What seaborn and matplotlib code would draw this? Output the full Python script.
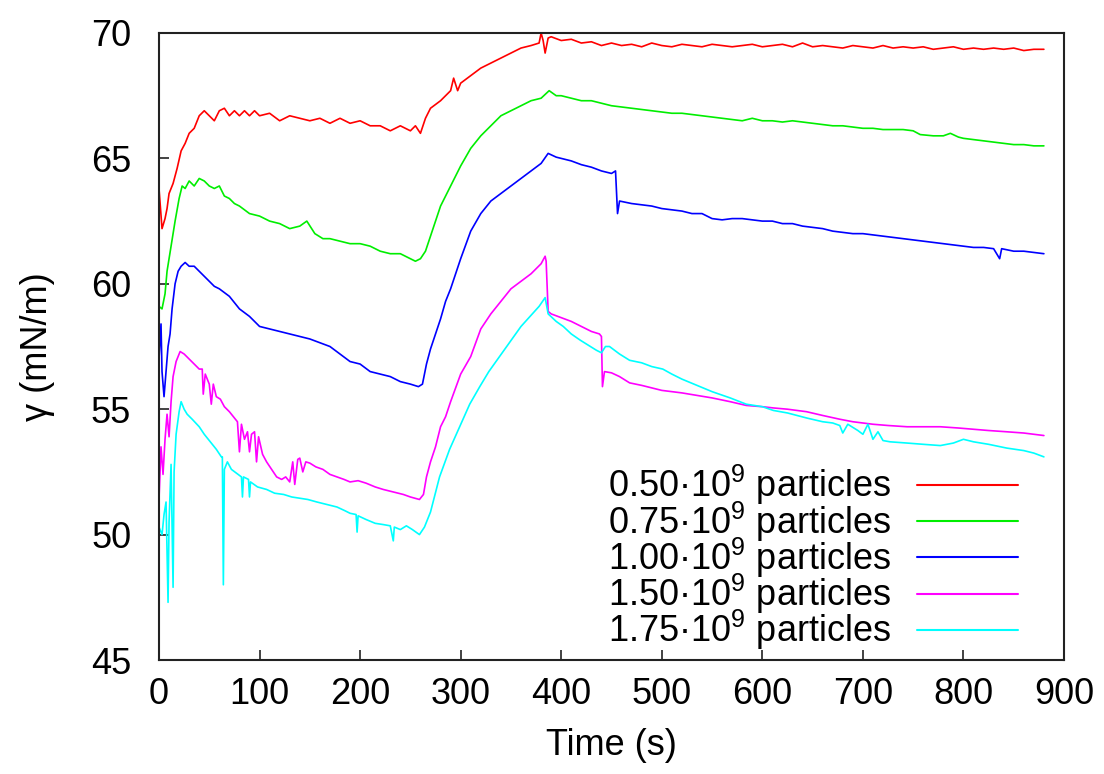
import matplotlib
matplotlib.use("Agg")
import matplotlib.pyplot as plt
import seaborn as sns
import pandas as pd

# ---------------- data ----------------
labels = ["0.50·10$^{9}$ particles", "0.75·10$^{9}$ particles", "1.00·10$^{9}$ particles",
          "1.50·10$^{9}$ particles", "1.75·10$^{9}$ particles"]
colors = ["#ff0000", "#00ee00", "#0000ff", "#ff00ff", "#00ffff"]

t_050 = [0, 3, 6, 8, 10, 14, 18, 22, 26, 30, 35, 40, 45, 50, 55, 60, 65, 70, 75, 80, 85, 90, 95, 100,
         110, 120, 130, 140, 150, 160, 170, 180, 190, 200, 210, 220, 230, 240, 250, 255, 260, 265,
         270, 280, 290, 293, 297, 300, 310, 320, 330, 340, 350, 360, 370, 378, 380, 382, 384, 387,
         390, 400, 410, 420, 430, 440, 450, 460, 470, 480, 490, 500, 510, 520, 530, 540, 550, 560,
         570, 580, 590, 600, 610, 620, 630, 640, 650, 660, 670, 680, 690, 700, 710, 720, 730, 740,
         750, 760, 770, 780, 790, 800, 810, 820, 830, 840, 850, 860, 870, 880]
y_050 = [63.8, 62.2, 62.6, 63.0, 63.6, 64.0, 64.6, 65.3, 65.6, 66.0, 66.2, 66.7, 66.9, 66.7, 66.5,
         66.9, 67.0, 66.7, 66.9, 66.7, 66.9, 66.7, 66.9, 66.7, 66.8, 66.5, 66.7, 66.6, 66.5, 66.6,
         66.4, 66.6, 66.4, 66.5, 66.3, 66.3, 66.1, 66.3, 66.1, 66.3, 66.0, 66.6, 67.0, 67.3, 67.7,
         68.2, 67.7, 68.0, 68.3, 68.6, 68.8, 69.0, 69.2, 69.4, 69.5, 69.6, 70.0, 69.7, 69.2, 69.8,
         69.85, 69.7, 69.75, 69.6, 69.65, 69.5, 69.6, 69.5, 69.55, 69.45, 69.6, 69.5, 69.45, 69.55,
         69.5, 69.45, 69.55, 69.5, 69.45, 69.5, 69.55, 69.45, 69.5, 69.55, 69.45, 69.6, 69.45,
         69.5, 69.45, 69.4, 69.5, 69.45, 69.4, 69.5, 69.4, 69.45, 69.4, 69.45, 69.35, 69.4, 69.45,
         69.35, 69.4, 69.35, 69.4, 69.35, 69.4, 69.3, 69.35, 69.35]

t_075 = [0, 3, 6, 8, 12, 16, 20, 23, 26, 30, 35, 40, 45, 50, 55, 60, 65, 70, 75, 80, 90, 100, 110,
         120, 130, 140, 147, 155, 163, 170, 180, 190, 200, 210, 220, 230, 240, 250, 255, 260, 265,
         270, 275, 280, 285, 290, 300, 310, 320, 330, 340, 350, 360, 370, 380, 388, 395, 400, 410,
         420, 430, 440, 450, 460, 470, 480, 490, 500, 510, 520, 530, 540, 550, 560, 570, 580, 590,
         600, 610, 620, 630, 640, 650, 660, 670, 680, 690, 700, 710, 720, 730, 740, 750, 757, 770,
         780, 787, 795, 800, 810, 820, 830, 840, 850, 860, 870, 880]
y_075 = [59.1, 59.0, 59.6, 60.5, 61.5, 62.5, 63.4, 63.9, 63.8, 64.1, 63.9, 64.2, 64.1, 63.9, 63.8,
         63.9, 63.5, 63.4, 63.2, 63.1, 62.8, 62.7, 62.5, 62.4, 62.2, 62.3, 62.5, 62.0, 61.8, 61.8,
         61.7, 61.6, 61.6, 61.5, 61.3, 61.2, 61.2, 61.0, 60.9, 61.0, 61.3, 61.9, 62.5, 63.1, 63.5,
         63.9, 64.7, 65.4, 65.9, 66.3, 66.7, 66.9, 67.1, 67.3, 67.4, 67.7, 67.5, 67.5, 67.4, 67.3,
         67.3, 67.2, 67.1, 67.05, 67.0, 66.95, 66.9, 66.85, 66.8, 66.8, 66.75, 66.7, 66.65, 66.6,
         66.55, 66.5, 66.6, 66.5, 66.5, 66.45, 66.5, 66.45, 66.4, 66.35, 66.3, 66.3, 66.25, 66.2,
         66.2, 66.15, 66.15, 66.15, 66.1, 65.95, 65.9, 65.9, 66.0, 65.85, 65.8, 65.75, 65.7, 65.65,
         65.6, 65.55, 65.55, 65.5, 65.5]

t_100 = [0, 2, 3, 5, 7, 9, 11, 13, 16, 19, 22, 26, 30, 35, 40, 45, 50, 55, 60, 70, 80, 90, 100, 110,
         120, 130, 140, 150, 160, 170, 180, 190, 200, 210, 220, 230, 240, 250, 258, 262, 266, 270,
         275, 280, 285, 290, 300, 310, 320, 330, 340, 350, 360, 370, 380, 387, 395, 400, 410, 420,
         430, 440, 450, 454, 456, 458, 470, 480, 490, 500, 510, 520, 530, 540, 550, 560, 570, 580,
         590, 600, 610, 620, 630, 640, 650, 660, 670, 680, 690, 700, 710, 720, 730, 740, 750, 760,
         770, 780, 790, 800, 810, 820, 830, 836, 838, 850, 860, 870, 880]
y_100 = [57.0, 58.4, 56.5, 55.5, 56.5, 57.5, 58.0, 59.0, 60.0, 60.5, 60.7, 60.85, 60.7, 60.7, 60.5,
         60.3, 60.1, 59.9, 59.8, 59.5, 59.0, 58.7, 58.3, 58.2, 58.1, 58.0, 57.9, 57.8, 57.65, 57.5,
         57.2, 56.9, 56.8, 56.5, 56.4, 56.3, 56.1, 56.0, 55.9, 56.0, 56.8, 57.4, 58.0, 58.6, 59.3,
         59.8, 61.0, 62.1, 62.8, 63.3, 63.6, 63.9, 64.2, 64.5, 64.8, 65.2, 65.05, 65.0, 64.9, 64.75,
         64.65, 64.5, 64.4, 64.5, 62.8, 63.3, 63.2, 63.15, 63.1, 63.0, 62.95, 62.9, 62.8, 62.8,
         62.6, 62.55, 62.6, 62.6, 62.55, 62.5, 62.5, 62.4, 62.4, 62.3, 62.25, 62.2, 62.1, 62.05,
         62.0, 62.0, 61.95, 61.9, 61.85, 61.8, 61.75, 61.7, 61.65, 61.6, 61.55, 61.5, 61.45, 61.45,
         61.4, 61.0, 61.4, 61.3, 61.3, 61.25, 61.2]

t_150 = [0, 2, 4, 6, 8, 10, 12, 14, 17, 21, 25, 30, 35, 40, 43, 44, 46, 50, 52, 54, 57, 61, 65, 70,
         74, 78, 80, 82, 85, 88, 90, 92, 95, 97, 99, 103, 107, 112, 117, 122, 126, 130, 133, 135,
         138, 140, 143, 146, 150, 156, 163, 170, 177, 184, 190, 198, 206, 215, 223, 233, 243, 250,
         259, 263, 266, 270, 275, 280, 285, 290, 300, 310, 320, 330, 340, 350, 360, 370, 380, 384,
         385, 387, 390, 400, 410, 420, 430, 438, 440, 441, 443, 450, 458, 468, 480, 490, 500, 510,
         520, 535, 550, 568, 584, 600, 611, 625, 644, 660, 677, 690, 710, 725, 744, 760, 777, 795,
         810, 825, 843, 860, 870, 880]
y_150 = [51.4, 53.5, 52.4, 53.8, 54.8, 53.9, 55.3, 56.3, 56.9, 57.3, 57.2, 57.0, 56.8, 56.6, 56.6,
         55.6, 56.4, 56.0, 55.2, 56.0, 55.5, 55.4, 55.1, 54.9, 54.7, 54.5, 53.3, 54.4, 53.8, 54.1,
         53.3, 54.0, 54.1, 52.9, 53.9, 53.2, 52.9, 52.6, 52.3, 52.2, 52.3, 52.1, 52.9, 52.0, 53.0,
         53.05, 52.5, 52.9, 52.85, 52.7, 52.6, 52.4, 52.3, 52.2, 52.1, 52.15, 52.05, 51.9, 51.8,
         51.7, 51.6, 51.5, 51.4, 51.6, 52.3, 52.9, 53.5, 54.3, 54.7, 55.3, 56.4, 57.1, 58.2, 58.8,
         59.3, 59.8, 60.1, 60.4, 60.8, 61.1, 60.9, 58.9, 58.8, 58.65, 58.5, 58.3, 58.1, 58.0, 57.9,
         55.9, 56.5, 56.45, 56.3, 56.05, 55.95, 55.85, 55.75, 55.7, 55.65, 55.55, 55.45, 55.3,
         55.15, 55.1, 55.05, 55.0, 54.9, 54.75, 54.6, 54.5, 54.4, 54.35, 54.3, 54.3, 54.3, 54.25,
         54.2, 54.15, 54.1, 54.05, 54.0, 53.95]

t_175 = [0, 3, 5, 7, 9, 10, 12, 14, 15, 17, 20, 22, 25, 28, 33, 40, 45, 51, 57, 62, 63, 64, 65, 68,
         72, 77, 82, 83, 84, 89, 90, 91, 98, 107, 115, 124, 132, 140, 148, 157, 167, 177, 185, 190,
         196, 197, 198, 206, 215, 223, 230, 233, 234, 240, 246, 252, 259, 264, 270, 279, 289, 299,
         309, 319, 328, 336, 344, 352, 360, 369, 378, 384, 387, 395, 402, 410, 419, 427, 435, 440,
         444, 448, 458, 468, 480, 490, 501, 510, 520, 535, 550, 568, 584, 600, 611, 625, 644, 660,
         670, 677, 680, 685, 695, 700, 705, 710, 715, 720, 727, 744, 760, 777, 790, 800, 810, 825,
         843, 860, 870, 880]
y_175 = [50.3, 50.0, 50.8, 51.3, 47.3, 50.5, 52.8, 47.9, 52.5, 54.0, 54.9, 55.3, 55.0, 54.8, 54.6,
         54.3, 54.0, 53.7, 53.4, 53.1, 53.1, 48.0, 52.6, 52.9, 52.6, 52.45, 52.3, 51.5, 52.3, 52.2,
         51.5, 52.1, 51.9, 51.8, 51.65, 51.6, 51.5, 51.45, 51.4, 51.3, 51.2, 51.1, 50.95, 50.85,
         50.8, 50.1, 50.75, 50.6, 50.45, 50.4, 50.35, 49.75, 50.3, 50.2, 50.35, 50.2, 50.0, 50.3,
         50.9, 52.3, 53.4, 54.3, 55.2, 55.9, 56.5, 56.95, 57.4, 57.85, 58.3, 58.7, 59.1, 59.45,
         58.8, 58.5, 58.3, 58.0, 57.75, 57.55, 57.35, 57.25, 57.5, 57.5, 57.2, 56.95, 56.85, 56.7,
         56.6, 56.4, 56.2, 55.95, 55.7, 55.45, 55.2, 55.1, 54.95, 54.85, 54.65, 54.5, 54.45, 54.35,
         54.05, 54.4, 54.15, 54.0, 54.4, 53.8, 54.1, 53.75, 53.7, 53.65, 53.6, 53.55, 53.65, 53.8,
         53.7, 53.6, 53.45, 53.35, 53.25, 53.1]

xticks = [0, 100, 200, 300, 400, 500, 600, 700, 800, 900]
yticks = [45, 50, 55, 60, 65, 70]

# ---------------- build long-form table ----------------
frames = []
for lab, t, y in zip(labels, [t_050, t_075, t_100, t_150, t_175],
                     [y_050, y_075, y_100, y_150, y_175]):
    frames.append(pd.DataFrame({"t": t, "y": y, "series": lab}))
df = pd.concat(frames, ignore_index=True)

sns.set_style("ticks")
plt.rcParams["font.family"] = ["Liberation Sans", "DejaVu Sans"]
plt.rcParams["mathtext.default"] = "regular"
plt.rcParams["text.color"] = "black"
plt.rcParams["axes.labelcolor"] = "black"
plt.rcParams["xtick.color"] = "black"
plt.rcParams["ytick.color"] = "black"

fig = plt.figure(figsize=(11.04, 7.74), dpi=100)
ax = fig.add_axes([159 / 1104, 1 - 660 / 774, (1064 - 159) / 1104, (660 - 33) / 774])

sns.lineplot(data=df, x="t", y="y", hue="series", hue_order=labels,
             palette=dict(zip(labels, colors)), estimator=None, sort=False,
             linewidth=1.2, ax=ax)

ax.set_xlim(0, 900)
ax.set_ylim(45, 70)
ax.set_xticks(xticks)
ax.set_yticks(yticks)
ax.tick_params(direction="in", length=7, width=1.2, labelsize=26, colors="#222222",
               labelcolor="black")
ax.tick_params(axis="x", pad=12)
ax.tick_params(axis="y", pad=20)
for sp in ax.spines.values():
    sp.set_linewidth(1.5)
    sp.set_color("#222222")
ax.set_xlabel("Time (s)", fontsize=26, labelpad=12, color="black")
ax.set_ylabel("γ (mN/m)", fontsize=26, labelpad=26, color="black")

handles, labs = ax.get_legend_handles_labels()
leg = ax.legend(handles, labs, loc="lower right", bbox_to_anchor=(0.949, 0.012),
                frameon=False, markerfirst=False, fontsize=26, handlelength=2.8,
                handletextpad=0.7, labelspacing=-0.22, borderaxespad=0.0, borderpad=0.0)
for h in leg.get_lines():
    h.set_linewidth(1.5)
for txt in leg.get_texts():
    txt.set_color("black")

fig.savefig("out.png", dpi=100)
